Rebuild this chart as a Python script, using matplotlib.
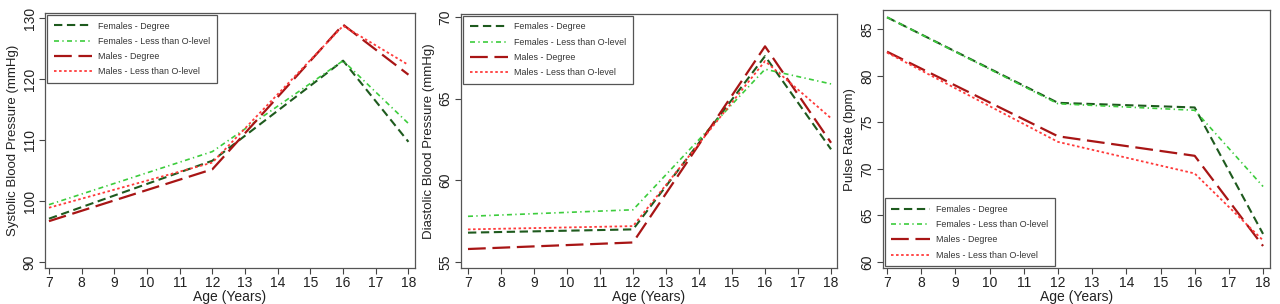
import matplotlib
matplotlib.use('Agg')
import matplotlib.pyplot as plt

plt.rcParams['font.family'] = ['Liberation Sans', 'DejaVu Sans']

# Data
ages = [7, 12, 16, 18]
series_labels = ['Females - Degree', 'Females - Less than O-level',
                 'Males - Degree', 'Males - Less than O-level']

sbp_f_deg = [97.1, 106.6, 123.0, 109.7]
sbp_f_less = [99.4, 108.1, 123.0, 112.7]
sbp_m_deg = [96.7, 105.2, 128.9, 120.7]
sbp_m_less = [98.9, 106.3, 128.7, 122.3]

dbp_f_deg = [56.8, 57.0, 67.6, 61.9]
dbp_f_less = [57.8, 58.2, 66.8, 65.9]
dbp_m_deg = [55.8, 56.2, 68.2, 62.3]
dbp_m_less = [57.0, 57.2, 67.3, 63.8]

pr_f_deg = [86.3, 77.1, 76.6, 63.0]
pr_f_less = [86.3, 77.0, 76.3, 68.1]
pr_m_deg = [82.6, 73.5, 71.4, 61.7]
pr_m_less = [82.5, 72.9, 69.5, 62.3]

x_ticks = list(range(7, 19))

styles = [
    dict(color='#1e5a1e', dashes=(4, 2.2), lw=1.5),
    dict(color='#3ccc3c', dashes=(3, 2, 0.8, 2), lw=1.2),
    dict(color='#a81515', dashes=(8, 3), lw=1.6),
    dict(color='#ff3a3a', dashes=(1.4, 1.4), lw=1.3),
]

panels = [
    dict(pos=[0.0352, 0.118, 0.289, 0.839], data=[sbp_f_deg, sbp_f_less, sbp_m_deg, sbp_m_less],
         ylim=(89.0, 130.8), yticks=[90, 100, 110, 120, 130],
         ylabel='Systolic Blood Pressure (mmHg)', xlim=(6.88, 18.2), loc='upper left'),
    dict(pos=[0.3602, 0.118, 0.2937, 0.836], data=[dbp_f_deg, dbp_f_less, dbp_m_deg, dbp_m_less],
         ylim=(54.63, 70.18), yticks=[55, 60, 65, 70],
         ylabel='Diastolic Blood Pressure (mmHg)', xlim=(6.79, 18.18), loc='upper left'),
    dict(pos=[0.6898, 0.118, 0.3023, 0.849], data=[pr_f_deg, pr_f_less, pr_m_deg, pr_m_less],
         ylim=(59.32, 87.08), yticks=[60, 65, 70, 75, 80, 85],
         ylabel='Pulse Rate (bpm)', xlim=(6.88, 18.2), loc='lower left'),
]

fig = plt.figure(figsize=(12.8, 3.04), dpi=100)

for p in panels:
    ax = fig.add_axes(p['pos'])
    for vals, lab, st in zip(p['data'], series_labels, styles):
        ax.plot(ages, vals, color=st['color'], dashes=st['dashes'], lw=st['lw'], label=lab)
    ax.set_xlim(*p['xlim'])
    ax.set_ylim(*p['ylim'])
    ax.set_xticks(x_ticks)
    ax.set_yticks(p['yticks'])
    ax.set_yticklabels([str(t) for t in p['yticks']], rotation=90, va='center')
    ax.set_xlabel('Age (Years)', fontsize=10, labelpad=0, color='#222222')
    ax.set_ylabel(p['ylabel'], fontsize=9.5, labelpad=3, color='#222222')
    ax.tick_params(labelsize=10, direction='out', length=4, width=0.8, color='#444444',
                   labelcolor='#222222', pad=2)
    for s in ax.spines.values():
        s.set_color('#555555')
        s.set_linewidth(0.9)
    leg = ax.legend(loc=p['loc'], prop={'size': 6.4}, fancybox=False, framealpha=1,
                    edgecolor='#555555', handlelength=4.3, handletextpad=0.7,
                    borderpad=0.75, labelspacing=0.7, borderaxespad=0.2)
    leg.get_frame().set_linewidth(0.9)
    for t in leg.get_texts():
        t.set_color('#333333')

fig.savefig('out.png', dpi=100)
